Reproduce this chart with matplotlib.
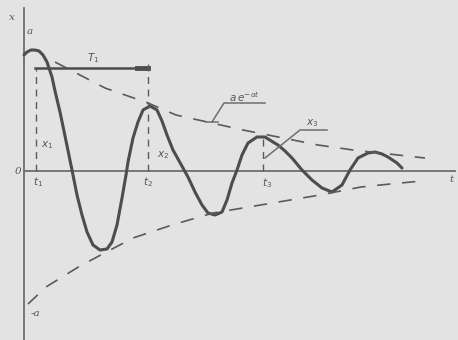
import matplotlib
matplotlib.use('Agg')
import matplotlib.pyplot as plt

# damped oscillation sketch (t along axis, x up)
curve_t = [0, 3, 7, 11, 15, 19, 23, 28, 31, 36, 41, 48, 53, 58, 63, 69, 76, 83, 88, 93, 98,
           102, 104, 109, 114, 119, 126, 133, 138, 143, 149, 154, 159, 164, 171, 178, 184, 191,
           198, 203, 208, 213, 218, 224, 233, 241, 249, 254, 261, 268, 278, 288, 298, 308,
           318, 326, 334, 344, 351, 358, 364, 373, 378]
curve_x = [116, 119, 121, 121, 120, 116, 109, 94, 80, 59, 35, 1, -24, -44, -61, -74, -79, -78, -71, -54, -27,
           -4, 9, 33, 49, 61, 65, 61, 50, 36, 21, 12, 3, -6, -21, -34, -42, -44,
           -41, -29, -12, 1, 16, 28, 34, 34, 29, 26, 20, 13, 1, -9, -17, -21,
           -14, 1, 13, 18, 19, 17, 14, 8, 3]

# envelope  +/- a e^(-alpha t)
upper_t = [31, 81, 124, 152, 219, 294, 329, 401]
upper_x = [109, 83, 68, 56, 41, 26, 21, 13]
lower_t = [4, 22, 56, 109, 148, 189, 296, 337, 366, 398]
lower_x = [-133, -116, -95, -67, -54, -42, -24, -16, -13, -10]

# period T1 and the marked instants t1, t2, t3
period_t = [11, 124]
period_x = 103
marks_t = [12, 124, 239]
marks_top = [103, 111, 33]

ink = '#4d4d4d'
grey = '#6e6e6e'

fig = plt.figure(figsize=(4.58, 3.40), dpi=100)
fig.patch.set_facecolor('#e3e3e3')
ax = fig.add_axes([0, 0, 1, 1])
ax.set_facecolor('#e3e3e3')
ax.set_xlim(-24, 434)
ax.set_ylim(-169, 171)
ax.axis('off')

# axes of the sketch
ax.plot([0, 431], [0, 0], color=grey, lw=1.3)
ax.plot([0, 0], [-169, 163], color=grey, lw=1.3)

# oscillation
ax.plot(curve_t, curve_x, color=ink, lw=2.2, solid_joinstyle='round', solid_capstyle='round')

# envelopes
ax.plot(upper_t, upper_x, color='#5a5a5a', lw=1.2, linestyle=(0, (8, 7)))
ax.plot(lower_t, lower_x, color='#5a5a5a', lw=1.2, linestyle=(0, (8, 7)))

# period bar
ax.plot(period_t, [period_x, period_x], color=ink, lw=1.8)
ax.plot([113, 124], [period_x, period_x], color=ink, lw=3.5)

# ordinates at t1, t2, t3
for t, top in zip(marks_t, marks_top):
    ax.plot([t, t], [0, top], color='#5a5a5a', lw=1.0, linestyle=(0, (5, 4)))

# leaders
ax.plot([188, 200, 241], [49, 68, 68], color=grey, lw=1.1)
ax.plot([182, 194], [49, 49], color=grey, lw=1.1)
ax.plot([241, 276, 303], [13, 41, 41], color=grey, lw=1.1)

tstyle = dict(color='#555555', fontsize=7.5, family='DejaVu Serif', style='italic',
              ha='center', va='center')
ax.text(-12, 154, 'x', **tstyle)
ax.text(6, 139, 'a', **tstyle)
ax.text(-6, -1, '0', **tstyle)
ax.text(428, -9, 't', **tstyle)
ax.text(69, 113, r'$T_1$', **tstyle)
ax.text(23, 26, r'$x_1$', **tstyle)
ax.text(14, -11, r'$t_1$', **tstyle)
ax.text(139, 16, r'$x_2$', **tstyle)
ax.text(124, -11, r'$t_2$', **tstyle)
ax.text(243, -12, r'$t_3$', **tstyle)
ax.text(288, 48, r'$x_3$', **tstyle)
ax.text(220, 74, r'$a\,e^{-\alpha t}$', **tstyle)
ax.text(11, -142, '-a', **tstyle)

fig.savefig('out.png', dpi=100, facecolor=fig.get_facecolor())
